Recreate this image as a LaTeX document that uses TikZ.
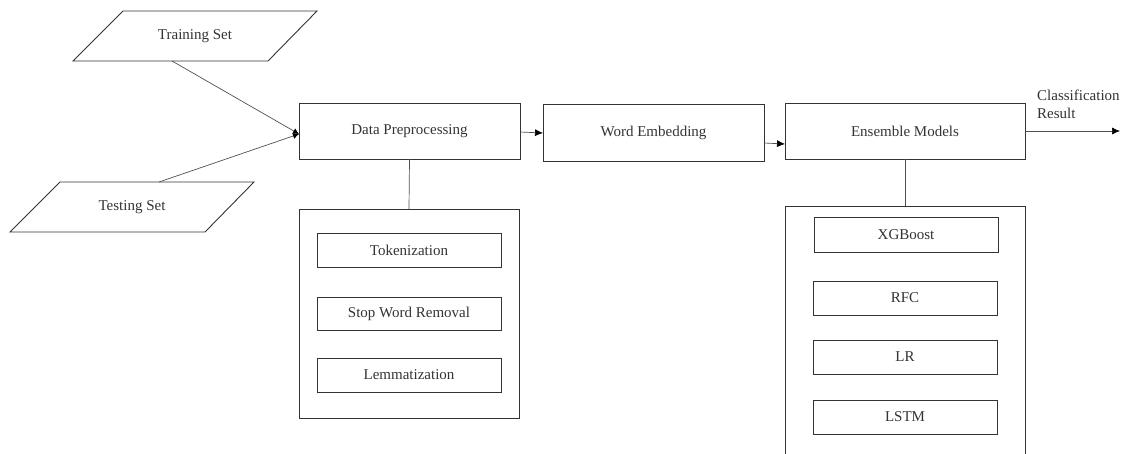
\documentclass[tikz,border=0pt]{standalone}
\usepackage{fontspec}
\setmainfont{Liberation Serif}
\usetikzlibrary{arrows.meta,calc}
\definecolor{ink}{HTML}{333333}
\definecolor{wire}{HTML}{505050}
\begin{document}
\begin{tikzpicture}[x=1pt,y=-1pt,
  font=\fontsize{15}{18}\selectfont, text=ink,
  box/.style={draw=ink, line width=0.9pt, rectangle, inner sep=0pt, outer sep=0pt, align=center},
  dataio/.style={rectangle, minimum width=244, minimum height=50, inner sep=0pt, outer sep=0pt},
  slantframe/.style={draw=ink, line width=0.9pt, line join=miter},
  wireline/.style={draw=wire, line width=0.7pt},
  flow/.style={wireline, -{Latex[length=8pt,width=7pt,fill=black,color=black]}},
  merge/.style={wireline, -{Latex[length=6pt,width=6pt,fill=black,color=black]}}
]
\useasboundingbox (0,0) rectangle (1122,453);
\clip (0,0) rectangle (1122,453);

% input data sets (parallelogram frames drawn around the text nodes)
\node[dataio] (train) at (195,36) {Training Set};
\node[dataio] (test) at (132,207) {Testing Set};
\foreach \n in {train,test}
  \draw[slantframe] ($(\n.north west)+(50,0)$) -- (\n.north east)
    -- ($(\n.south east)+(-49,0)$) -- (\n.south west) -- cycle;

% main pipeline
\node[box, minimum width=221, minimum height=56] (prep) at (409.5,131) {Data Preprocessing};
\node[box, minimum width=221, minimum height=57] (embed) at (653.5,132.5) {Word Embedding};
\node[box, minimum width=240, minimum height=56] (ens) at (905,131) {Ensemble Models};
\coordinate (out) at (1120,131);
\node[anchor=north west, align=left, inner sep=0pt] (res) at (1037,90) {Classification\\Result};

% preprocessing steps
\node[box, minimum width=220, minimum height=209] (prepgrp) at (409,313.5) {};
\node[box, minimum width=184, minimum height=34] (tok) at (409,250) {Tokenization};
\node[box, minimum width=184, minimum height=33] (stop) at (409,313.5) {Stop Word Removal};
\node[box, minimum width=184, minimum height=34] (lem) at (409,375) {Lemmatization};

% ensemble members
\node[box, minimum width=240, minimum height=280] (ensgrp) at (905,346) {};
\node[box, minimum width=184, minimum height=35] (xgb) at (906,234.5) {XGBoost};
\node[box, minimum width=184, minimum height=34] (rfc) at (905,298) {RFC};
\node[box, minimum width=184, minimum height=34] (lr) at (905,357) {LR};
\node[box, minimum width=184, minimum height=34] (lstm) at (905,417) {LSTM};

% connectors
\draw[merge] ($(train.south)+(-23,0)$) -- ($(prep.west)+(0,3)$);
\draw[merge] ($(test.north)+(27,0)$) -- ($(prep.west)+(0,3)$);
\draw[flow] ($(prep.east)+(0,1)$) -- ($(embed.west)+(0,0.5)$);
\draw[flow] ($(embed.east)+(0,10.5)$) -- ($(ens.west)+(0,13)$);
\draw[flow] (ens.east) -- (out);
\draw[wireline] (prep.south) -- (prepgrp.north);
\draw[wireline] (ens.south) -- (ensgrp.north);
\end{tikzpicture}
\end{document}
